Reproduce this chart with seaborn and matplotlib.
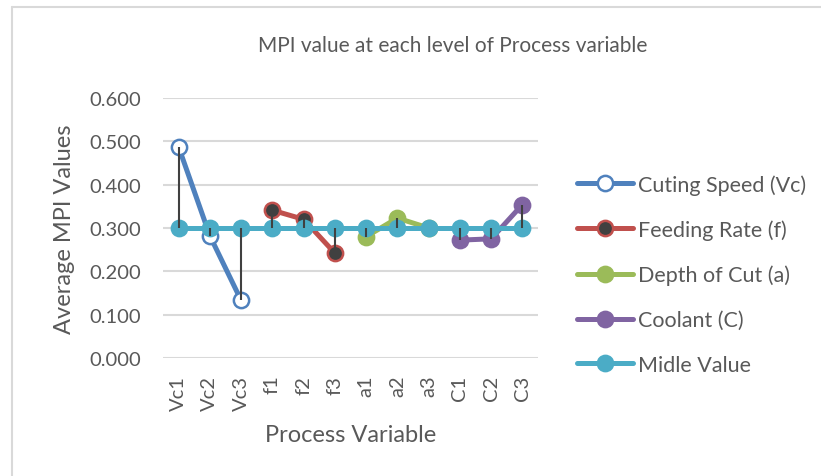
import numpy as np
import pandas as pd
import matplotlib
matplotlib.use('Agg')
import matplotlib.pyplot as plt
import seaborn as sns
from matplotlib.lines import Line2D

# categories on the x axis
levels = ['Vc1', 'Vc2', 'Vc3', 'f1', 'f2', 'f3', 'a1', 'a2', 'a3', 'C1', 'C2', 'C3']

# MPI values
cutting_speed = [0.487, 0.282, 0.133]
feeding_rate = [0.341, 0.320, 0.242]
depth_of_cut = [0.280, 0.323, 0.300]
coolant = [0.272, 0.275, 0.354]
middle_value = [0.300] * 12

series_names = ['Cuting Speed (Vc)', 'Feeding Rate (f)', 'Depth of Cut (a)',
                'Coolant (C)', 'Midle Value']
y_ticks = [0.0, 0.1, 0.2, 0.3, 0.4, 0.5, 0.6]

sns.set_theme(style='white')
plt.rcParams['font.family'] = ['Lato', 'DejaVu Sans']

rows = []
for name, cats, vals in [
        (series_names[0], levels[0:3], cutting_speed),
        (series_names[1], levels[3:6], feeding_rate),
        (series_names[2], levels[6:9], depth_of_cut),
        (series_names[3], levels[9:12], coolant),
        (series_names[4], levels, middle_value)]:
    for c, v in zip(cats, vals):
        rows.append({'series': name, 'level': c, 'mpi': v})
df = pd.DataFrame(rows)

styles = {
    series_names[0]: dict(color='#4F81BD', mfc='white', mec='#4F81BD'),
    series_names[1]: dict(color='#C0504D', mfc='#404040', mec='#C0504D'),
    series_names[2]: dict(color='#9BBB59', mfc='#9BBB59', mec='#9BBB59'),
    series_names[3]: dict(color='#8064A2', mfc='#8064A2', mec='#8064A2'),
    series_names[4]: dict(color='#4BACC6', mfc='#4BACC6', mec='#4BACC6'),
}
text_grey = '#595959'

fig = plt.figure(figsize=(8.21, 4.77), dpi=100)
ax = fig.add_axes([163 / 821, 1 - 359 / 477, (538 - 163) / 821, (359 - 99) / 477])

# fix the category order first
ax.plot(levels, middle_value, alpha=0)

handles = []
for name in series_names:
    st = styles[name]
    sub = df[df['series'] == name]
    sns.lineplot(data=sub, x='level', y='mpi', ax=ax, sort=False,
                 color=st['color'], linewidth=3.6, marker='o', markersize=11,
                 markerfacecolor=st['mfc'], markeredgecolor=st['mec'],
                 markeredgewidth=1.8, zorder=3)
    handles.append(Line2D([], [], color=st['color'], linewidth=3.6, marker='o',
                          markersize=11, markerfacecolor=st['mfc'],
                          markeredgecolor=st['mec'], markeredgewidth=1.8))

# high-low lines between series value and the middle value
lookup = df.groupby('level')['mpi']
lo = lookup.min().reindex(levels)
hi = lookup.max().reindex(levels)
ax.vlines(levels, lo.values, hi.values, color='#404040', linewidth=1.5, zorder=5)

ax.set_xlim(-0.5, len(levels) - 0.5)
ax.set_ylim(0, 0.6)
ax.set_yticks(y_ticks)
ax.set_yticklabels([f'{t:.3f}' for t in y_ticks])
ax.yaxis.grid(True, color='#D9D9D9', linewidth=1.5)
ax.set_axisbelow(True)
for s in ax.spines.values():
    s.set_visible(False)
ax.tick_params(axis='both', length=0, labelsize=14.5, colors=text_grey)
ax.tick_params(axis='y', pad=16)
ax.tick_params(axis='x', pad=12)
plt.setp(ax.get_xticklabels(), rotation=90)

ax.set_xlabel('Process Variable', fontsize=17, color=text_grey, labelpad=10)
ax.set_ylabel('Average MPI Values', fontsize=17, color=text_grey, labelpad=10)

fig.text(453 / 821, 1 - 46 / 477, 'MPI value at each level of Process variable',
         ha='center', va='center', fontsize=15, color=text_grey)

leg = fig.legend(handles, series_names, loc='upper left',
                 bbox_to_anchor=(577 / 821, 1 - 175 / 477), frameon=False,
                 fontsize=15.5, handlelength=2.6, handletextpad=0.25,
                 labelspacing=1.15, borderpad=0, borderaxespad=0,
                 labelcolor=text_grey)

# light chart frame
fig.add_artist(Line2D([12 / 821, 1], [1 - 8 / 477, 1 - 8 / 477],
                      color='#D9D9D9', linewidth=1.5))
fig.add_artist(Line2D([12 / 821, 12 / 821], [0, 1 - 8 / 477],
                      color='#D9D9D9', linewidth=1.5))

fig.savefig('out.png', dpi=100)
